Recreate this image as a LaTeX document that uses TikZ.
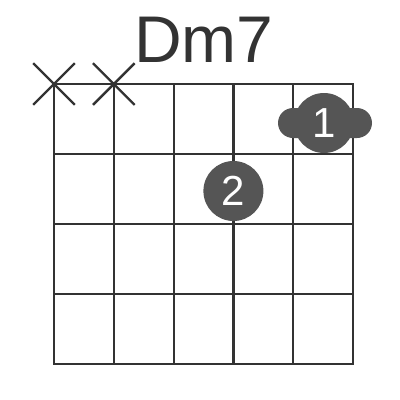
\documentclass[tikz,border=0pt]{standalone}
\usepackage{fontspec}
\setmainfont{Liberation Sans}
\definecolor{gridgray}{HTML}{333333}
\definecolor{dotgray}{HTML}{555555}
\tikzset{
  fretline/.style={draw=gridgray, line width=2.2pt},
  mutemark/.style={draw=gridgray, line width=2.4pt},
  fingerdot/.style={circle, fill=dotgray, minimum size=60pt, inner sep=0pt,
    text=white, font=\fontsize{42}{50}\selectfont},
}
\begin{document}
\begin{tikzpicture}[x=1pt, y=-1pt, line cap=rect, line join=miter]

  %% ════ 标题 ════
  \node[text=gridgray, font=\fontsize{66}{80}\selectfont] (title) at (204,40) {Dm7};

  %% ════ 指板网格 ════
  \foreach \sx in {54,113.8,173.6,233.4,293.2,353}
    \draw[fretline] (\sx,84) -- (\sx,364);
  \foreach \fy in {84,154,224,294,364}
    \draw[fretline] (54,\fy) -- (353,\fy);

  %% ════ 不弹的弦 ════
  \draw[mutemark] (34,64) -- (74,104) (34,104) -- (74,64);
  \draw[mutemark] (93.8,64) -- (133.8,104) (93.8,104) -- (133.8,64);

  %% ════ 横按 1 ════
  \fill[dotgray, rounded corners=15pt] (278,108) rectangle (372,138);
  \node[fingerdot] (barre) at (324,123) {1};

  %% ════ 手指 2 ════
  \node[fingerdot] (two) at (233.4,191) {2};

  % 钉死画布
  \pgfresetboundingbox
  \path[use as bounding box] (0,0) rectangle (400,400);
\end{tikzpicture}
\end{document}
